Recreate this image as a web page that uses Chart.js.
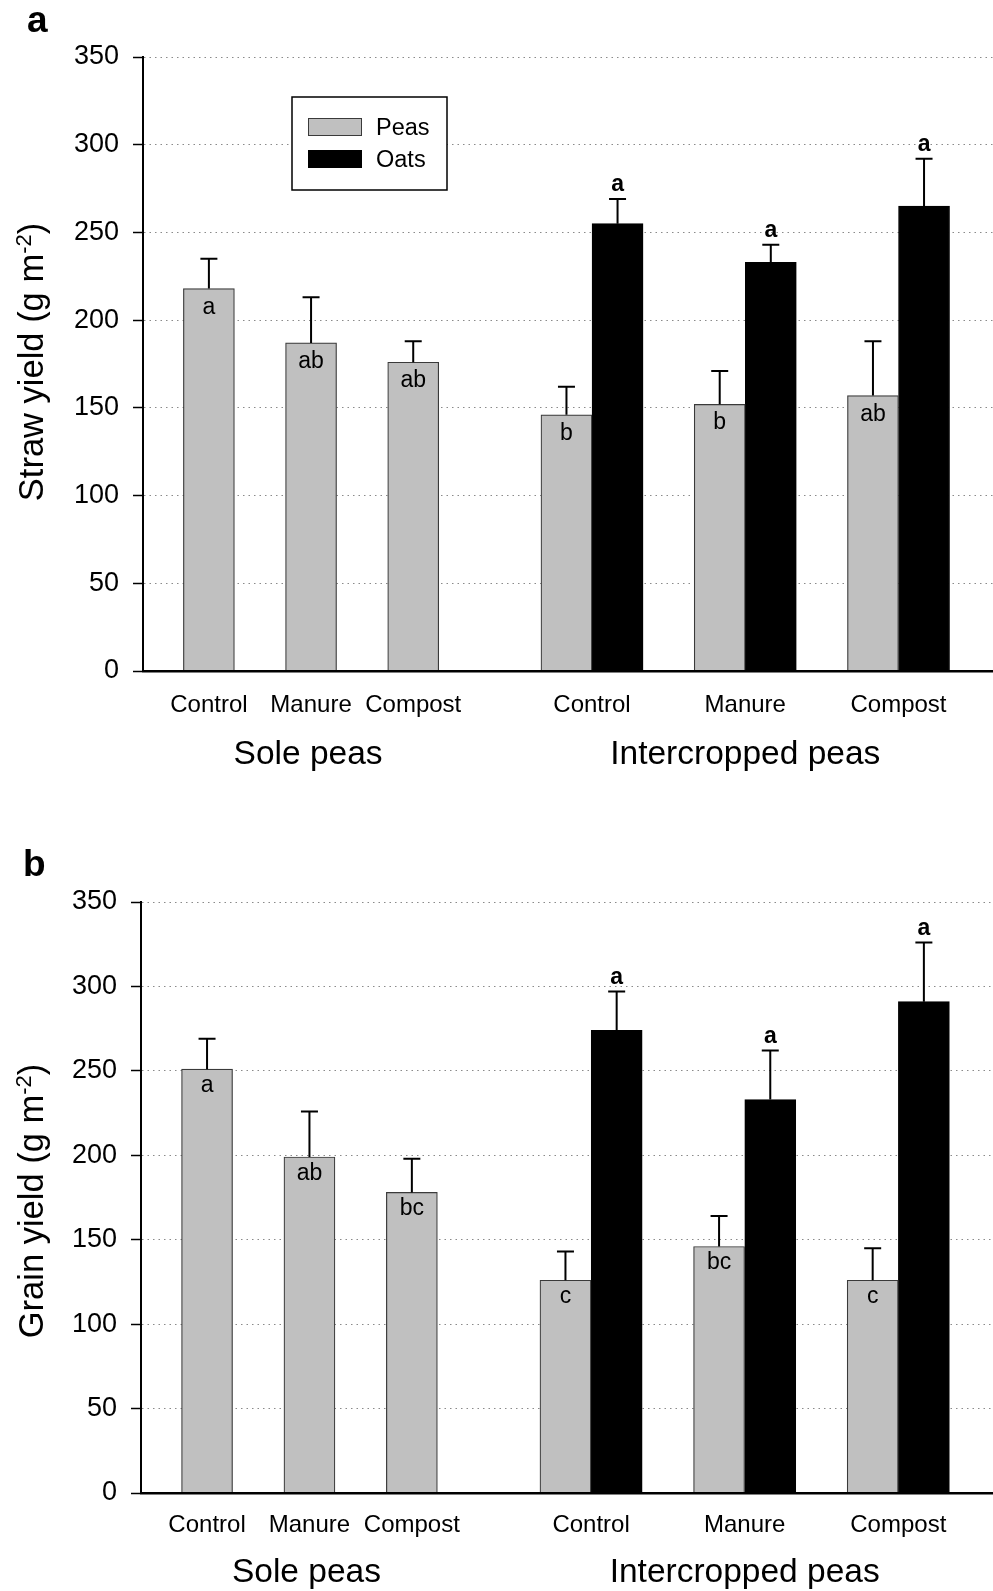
<!DOCTYPE html>
<html>
<head>
<meta charset="utf-8">
<script src="https://cdn.jsdelivr.net/npm/chart.js@4.4.0/dist/chart.umd.min.js"></script>
<style>
  body { margin: 0; background: #fff; }
  canvas { position: absolute; left: 0; }
</style>
</head>
<body>
<canvas id="grafA" width="993" height="800" style="top:0px"></canvas>
<canvas id="grafB" width="993" height="791" style="top:800px"></canvas>
<script>
const treatments = ['Control', 'Manure', 'Compost'];
const groups = ['Sole peas', 'Intercropped peas'];
const yTicks = [0, 50, 100, 150, 200, 250, 300, 350];

// a) straw yield
const strawSole = [218, 187, 176];
const strawSoleSE = [17, 26, 12];
const strawSoleLetter = ['a', 'ab', 'ab'];
const strawMixPeas = [146, 152, 157];
const strawMixPeasSE = [16, 19, 31];
const strawMixPeasLetter = ['b', 'b', 'ab'];
const strawOats = [255, 233, 265];
const strawOatsSE = [14, 10, 27];
const strawOatsLetter = ['a', 'a', 'a'];

// b) grain yield
const grainSole = [251, 199, 178];
const grainSoleSE = [18, 27, 20];
const grainSoleLetter = ['a', 'ab', 'bc'];
const grainMixPeas = [126, 146, 126];
const grainMixPeasSE = [17, 18, 19];
const grainMixPeasLetter = ['c', 'bc', 'c'];
const grainOats = [274, 233, 291];
const grainOatsSE = [23, 29, 35];
const grainOatsLetter = ['a', 'a', 'a'];

const FONT = '"Liberation Sans", Arial, sans-serif';
Chart.defaults.font.family = FONT;
Chart.defaults.color = '#000';

// slot layout on the linear x axis
const soleX = i => 2 * i;
const mixX = i => 7.5 + 3 * i;
const tickX = treatments.map((t, i) => soleX(i)).concat(treatments.map((t, i) => mixX(i)));
const tickLabels = treatments.concat(treatments);

const extras = {
  id: 'extras',
  afterDatasetsDraw(chart, args, o) {
    const ctx = chart.ctx;
    const y = chart.scales.y;
    ctx.save();
    chart.data.datasets.forEach((ds, d) => {
      chart.getDatasetMeta(d).data.forEach((bar, i) => {
        const pt = ds.data[i];
        const top = y.getPixelForValue(pt.y + pt.se);
        ctx.strokeStyle = '#000';
        ctx.lineWidth = 2;
        ctx.beginPath();
        ctx.moveTo(bar.x, bar.y);
        ctx.lineTo(bar.x, top);
        ctx.moveTo(bar.x - 8.5, top);
        ctx.lineTo(bar.x + 8.5, top);
        ctx.stroke();
        ctx.fillStyle = '#000';
        ctx.textAlign = 'center';
        ctx.textBaseline = 'alphabetic';
        if (ds.letterAbove) {
          ctx.font = 'bold 23px ' + FONT;
          ctx.fillText(pt.letter, bar.x, top - o.above);
        } else {
          ctx.font = '23px ' + FONT;
          ctx.fillText(pt.letter, bar.x, bar.y + o.inside);
        }
      });
    });
    ctx.restore();
  },
  afterDraw(chart, args, o) {
    const ctx = chart.ctx;
    const x = chart.scales.x;
    const area = chart.chartArea;
    ctx.save();
    ctx.fillStyle = '#000';

    // group labels
    ctx.font = '33.5px ' + FONT;
    ctx.textAlign = 'center';
    ctx.textBaseline = 'alphabetic';
    ctx.fillText(groups[0], x.getPixelForValue(soleX(1)) - 3, area.bottom + o.groupGap);
    ctx.fillText(groups[1], x.getPixelForValue(mixX(1)), area.bottom + o.groupGap);

    // panel letter
    ctx.font = 'bold 37px ' + FONT;
    ctx.textAlign = 'left';
    ctx.fillText(o.panel, o.panelX, o.panelY);

    // y title with superscript
    const size = 34.5;
    ctx.translate(o.titleX, o.titleY);
    ctx.rotate(-Math.PI / 2);
    ctx.font = size + 'px ' + FONT;
    const w1 = ctx.measureText(o.title).width;
    const w3 = ctx.measureText(')').width;
    const supFont = Math.round(size * 0.63) + 'px ' + FONT;
    ctx.font = supFont;
    const w2 = ctx.measureText('-2').width;
    const s = -(w1 + w2 + w3) / 2;
    ctx.font = size + 'px ' + FONT;
    ctx.fillText(o.title, s, 0);
    ctx.fillText(')', s + w1 + w2, 0);
    ctx.font = supFont;
    ctx.fillText('-2', s + w1, -size * 0.36);
    ctx.restore();

    // legend box (panel a only)
    if (o.legend) {
      ctx.save();
      ctx.strokeStyle = '#000';
      ctx.lineWidth = 1.5;
      ctx.fillStyle = '#fff';
      ctx.fillRect(292, 97, 155, 93);
      ctx.strokeRect(292, 97, 155, 93);
      chart.data.datasets.forEach((ds, d) => {
        const yy = 118 + d * 32;
        ctx.fillStyle = ds.backgroundColor;
        ctx.fillRect(308, yy, 54, 18);
        ctx.strokeStyle = ds.borderColor;
        ctx.lineWidth = 1;
        ctx.strokeRect(308.5, yy + 0.5, 53, 17);
        ctx.fillStyle = '#000';
        ctx.font = '23.5px ' + FONT;
        ctx.textAlign = 'left';
        ctx.textBaseline = 'alphabetic';
        ctx.fillText(ds.label, 376, yy + 17);
      });
      ctx.restore();
    }
  }
};

function buildChart(id, p) {
  const peas = [];
  const oats = [];
  p.sole.forEach((v, i) => peas.push({ x: soleX(i), y: v, se: p.soleSE[i], letter: p.soleLetter[i] }));
  p.mixPeas.forEach((v, i) => peas.push({ x: mixX(i) - 0.5, y: v, se: p.mixPeasSE[i], letter: p.mixPeasLetter[i] }));
  p.oats.forEach((v, i) => oats.push({ x: mixX(i) + 0.5, y: v, se: p.oatsSE[i], letter: p.oatsLetter[i] }));

  return new Chart(document.getElementById(id), {
    type: 'bar',
    data: {
      datasets: [
        { label: 'Peas', data: peas, backgroundColor: '#c0c0c0', borderColor: '#3a3a3a', borderWidth: 1.2 },
        { label: 'Oats', data: oats, backgroundColor: '#000', borderColor: '#000', borderWidth: 1, letterAbove: true }
      ]
    },
    options: {
      responsive: false,
      animation: false,
      devicePixelRatio: 1,
      grouped: false,
      barThickness: 51,
      layout: { padding: { top: p.top, right: 0, bottom: 0, left: 0 } },
      plugins: {
        legend: { display: false },
        tooltip: { enabled: false },
        extras: p.extras
      },
      scales: {
        x: {
          type: 'linear',
          offset: false,
          min: -1.29,
          max: 15.35,
          afterBuildTicks: s => { s.ticks = tickX.map(v => ({ value: v })); },
          afterFit: s => { s.height = p.xHeight; },
          grid: { display: false, drawTicks: false, offset: false },
          border: { display: true, color: '#000', width: 2.5, z: 1 },
          ticks: {
            autoSkip: false,
            maxRotation: 0,
            padding: p.labelPad,
            font: { size: 24 },
            color: '#000',
            callback: (v, i) => tickLabels[i]
          }
        },
        y: {
          min: 0,
          max: 350,
          afterBuildTicks: s => { s.ticks = yTicks.map(v => ({ value: v })); },
          afterFit: s => { s.width = p.left; },
          grid: { color: '#8a8a8a', lineWidth: 1, tickColor: '#000', tickLength: 10, tickWidth: 1.5 },
          border: { display: true, color: '#000', width: 2, dash: [1.5, 4] },
          ticks: { padding: 14, font: { size: 27 }, color: '#000' }
        }
      }
    },
    plugins: [extras]
  });
}

buildChart('grafA', {
  sole: strawSole, soleSE: strawSoleSE, soleLetter: strawSoleLetter,
  mixPeas: strawMixPeas, mixPeasSE: strawMixPeasSE, mixPeasLetter: strawMixPeasLetter,
  oats: strawOats, oatsSE: strawOatsSE, oatsLetter: strawOatsLetter,
  top: 57, left: 143, xHeight: 129, labelPad: 20,
  extras: { panel: 'a', panelX: 27, panelY: 32, title: 'Straw yield (g m', titleX: 43, titleY: 362,
            groupGap: 93, inside: 25, above: 8, legend: true }
});

buildChart('grafB', {
  sole: grainSole, soleSE: grainSoleSE, soleLetter: grainSoleLetter,
  mixPeas: grainMixPeas, mixPeasSE: grainMixPeasSE, mixPeasLetter: grainMixPeasLetter,
  oats: grainOats, oatsSE: grainOatsSE, oatsLetter: grainOatsLetter,
  top: 102, left: 141, xHeight: 98, labelPad: 18,
  extras: { panel: 'b', panelX: 23, panelY: 76, title: 'Grain yield (g m', titleX: 43, titleY: 401,
            groupGap: 89, inside: 23, above: 7.5, legend: false }
});
</script>
</body>
</html>
